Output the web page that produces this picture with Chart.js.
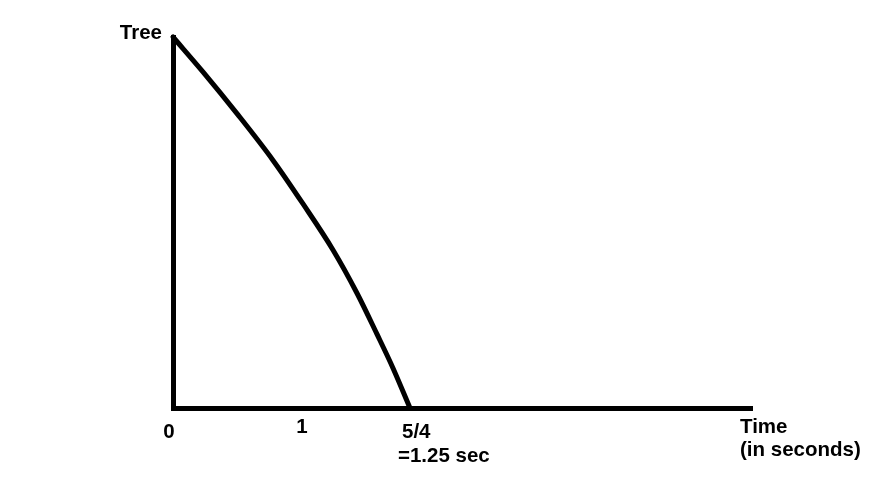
<!DOCTYPE html>
<html>
<head>
<meta charset="utf-8">
<script src="https://cdn.jsdelivr.net/npm/chart.js@4"></script>
<style>
html, body { margin: 0; padding: 0; background: #fff; }
#wrap { width: 881px; height: 499px; }
</style>
</head>
<body>
<div id="wrap"><canvas id="treeChart" width="881" height="499"></canvas></div>
<script>
// values (x in seconds, y = share of tree height still standing)
var timeValues = [0, 0.158, 0.343, 0.527, 0.686, 0.844, 0.970, 1.076, 1.160, 1.25];
var treeHeight = [1, 0.906, 0.790, 0.668, 0.550, 0.426, 0.310, 0.199, 0.108, 0];
var tickPositions = [0, 0.68, 1.25];
var tickLabels = [['0'], ['1'], ['5/4', '=1.25 sec']];
var xTitle = ['Time', '(in seconds)'];
var yTitle = 'Tree';
var xMax = 3.054;

var labelPlugin = {
    id: 'sketchLabels',
    afterDraw: function (chart) {
        var ctx = chart.ctx;
        var area = chart.chartArea;
        var xs = chart.scales.x;
        ctx.save();
        ctx.fillStyle = '#000';
        ctx.font = 'bold 20.5px "Liberation Sans", Arial, sans-serif';
        ctx.textBaseline = 'alphabetic';

        // y title
        ctx.textAlign = 'right';
        ctx.fillText(yTitle, area.left - 11, area.top + 2);

        // x tick labels
        tickPositions.forEach(function (pos, i) {
            var px = xs.getPixelForValue(pos);
            var lines = tickLabels[i];
            if (lines.length > 1) {
                ctx.textAlign = 'left';
                lines.forEach(function (txt, j) {
                    ctx.fillText(txt, px - (j === 0 ? 8 : 12), area.bottom + 30 + j * 24);
                });
            } else {
                ctx.textAlign = 'center';
                ctx.fillText(lines[0], px - (i === 0 ? 4 : 0), area.bottom + (i === 1 ? 25 : 30));
            }
        });

        // x title
        ctx.textAlign = 'left';
        xTitle.forEach(function (txt, j) {
            ctx.fillText(txt, area.right - 12, area.bottom + 25 + j * 23);
        });
        ctx.restore();
    }
};

var ctx = document.getElementById('treeChart').getContext('2d');
var treeChart = new Chart(ctx, {
    type: 'line',
    data: {
        datasets: [{
            data: timeValues.map(function (t, i) { return { x: t, y: treeHeight[i] }; }),
            borderColor: '#000',
            borderWidth: 5,
            pointRadius: 0,
            cubicInterpolationMode: 'monotone',
            borderCapStyle: 'round',
            borderJoinStyle: 'round',
            fill: false,
            clip: false
        }]
    },
    options: {
        responsive: false,
        animation: false,
        events: [],
        layout: { padding: { left: 173, top: 37, right: 129, bottom: 91 } },
        plugins: { legend: { display: false }, tooltip: { enabled: false } },
        scales: {
            x: {
                type: 'linear',
                min: 0,
                max: xMax,
                grid: { display: false },
                ticks: { display: false },
                border: { color: '#000', width: 5 },
                afterFit: function (s) { s.height = 0; }
            },
            y: {
                type: 'linear',
                min: 0,
                max: 1,
                grid: { display: false },
                ticks: { display: false },
                border: { color: '#000', width: 5 },
                afterFit: function (s) { s.width = 0; }
            }
        }
    },
    plugins: [labelPlugin]
});
</script>
</body>
</html>
